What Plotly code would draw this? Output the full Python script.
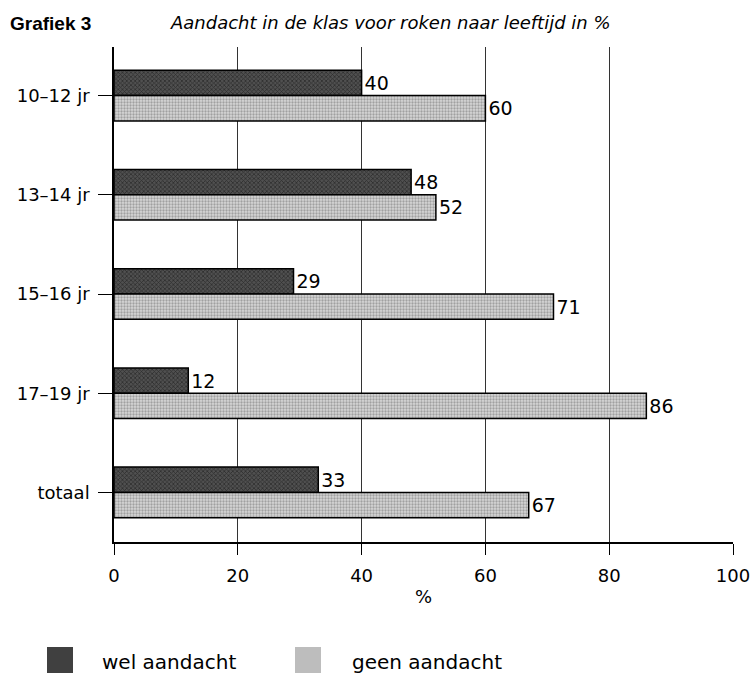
import plotly.graph_objects as go

categories = ["10–12 jr", "13–14 jr", "15–16 jr", "17–19 jr", "totaal"]
wel_aandacht = [40, 48, 29, 12, 33]
geen_aandacht = [60, 52, 71, 86, 67]
x_ticks = [0, 20, 40, 60, 80, 100]
series_names = ["wel aandacht", "geen aandacht"]

FONT = "DejaVu Sans"
TFONT = "Liberation Sans"

W, H = 754, 673
L, R, T, B = 114, 21, 47, 131
PW, PH = W - L - R, H - T - B


def px_x(px):
    return (px - L) / PW


def px_y(py):
    return (H - B - py) / PH


DARK = dict(color="#505050", line=dict(color="black", width=1.5),
            pattern=dict(shape="x", fgcolor="#0a0a0a", bgcolor="#505050", size=3, solidity=0.45))
LIGHT = dict(color="#d6d6d6", line=dict(color="black", width=1.5),
             pattern=dict(shape=".", fgcolor="#6a6a6a", bgcolor="#d6d6d6", size=3, solidity=0.45))

fig = go.Figure()
for name, vals, mk in [(series_names[0], wel_aandacht, DARK), (series_names[1], geen_aandacht, LIGHT)]:
    fig.add_trace(go.Bar(
        y=categories, x=vals, orientation="h", name=name,
        text=[str(v) for v in vals], textposition="outside",
        textfont=dict(family=FONT, size=19, color="black"),
        cliponaxis=False, marker=mk, showlegend=False,
    ))

fig.update_layout(
    width=W, height=H,
    margin=dict(l=L, r=R, t=T, b=B, autoexpand=False),
    paper_bgcolor="white", plot_bgcolor="white",
    barmode="group", bargap=0.49, bargroupgap=0,
    font=dict(family=FONT, size=18, color="black"),
    showlegend=False,
)
fig.update_xaxes(
    range=[0, 100], tickvals=x_ticks, ticktext=[str(t) for t in x_ticks],
    showgrid=True, gridcolor="#333333", gridwidth=1,
    showline=True, linecolor="black", linewidth=2,
    ticks="outside", ticklen=11, tickcolor="black", tickwidth=1,
    tickfont=dict(family=FONT, size=18), zeroline=False,
    ticklabelstandoff=5, automargin=False,
    title=dict(text="%", font=dict(family=FONT, size=18), standoff=6),
)
fig.update_yaxes(
    range=[4.5, -0.49], showgrid=False,
    showline=True, linecolor="black", linewidth=1.5,
    ticks="outside", ticklen=14, tickcolor="black", tickwidth=1,
    tickfont=dict(family=FONT, size=18),
    ticklabelstandoff=5, automargin=False,
)

# titles
fig.add_annotation(text="<b>Grafiek 3</b>", xref="paper", yref="paper",
                   x=px_x(8), xanchor="left", y=px_y(24), yanchor="middle",
                   showarrow=False, font=dict(family=TFONT, size=19, color="black"))
fig.add_annotation(text="<i>Aandacht in de klas voor roken naar leeftijd in %</i>",
                   xref="paper", yref="paper",
                   x=px_x(168), xanchor="left", y=px_y(23), yanchor="middle",
                   showarrow=False, font=dict(family=FONT, size=18, color="black"))

# legend (keys + labels)
legend_items = [(series_names[0], 47, 100, "#404040"), (series_names[1], 295, 350, "#bdbdbd")]
for name, sx, tx, col in legend_items:
    fig.add_shape(type="rect", xref="paper", yref="paper",
                  x0=px_x(sx), x1=px_x(sx + 26), y0=px_y(647), y1=px_y(675),
                  fillcolor=col, line=dict(width=0))
    fig.add_annotation(text=name, xref="paper", yref="paper",
                       x=px_x(tx), xanchor="left", y=px_y(662), yanchor="middle",
                       showarrow=False, font=dict(family=FONT, size=20, color="black"))

fig.write_html("out.html", config={"displayModeBar": False},
               post_script="document.body.style.margin='0';")
